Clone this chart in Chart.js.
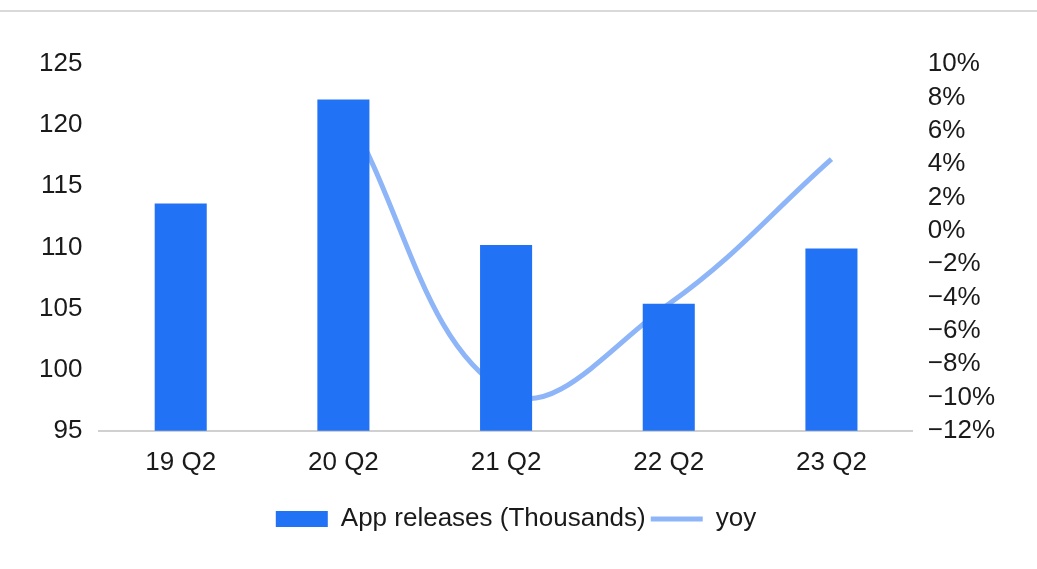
<!DOCTYPE html>
<html lang="en">
<head>
<meta charset="UTF-8">
<title>App releases</title>
<script src="https://cdn.jsdelivr.net/npm/chart.js@4.4.0/dist/chart.umd.min.js"></script>
<style>
  html, body { margin: 0; padding: 0; background: #fff; }
  #wrap { position: relative; width: 1037px; height: 569px; }
  #topline { position: absolute; left: 0; top: 10px; width: 1037px; height: 2px; background: #d9d9d9; }
</style>
</head>
<body>
<div id="wrap">
  <div id="topline"></div>
  <canvas id="chart" width="1037" height="569"></canvas>
</div>
<script>
var quarters = ['19 Q2', '20 Q2', '21 Q2', '22 Q2', '23 Q2'];
var releases = [113.6, 122.1, 110.2, 105.4, 109.9];
var yoy = [null, 7.5, -9.7, -4.4, 4.3];

var textColor = '#1a1a1a';
var font = { family: '"Liberation Sans", Arial, sans-serif', size: 26 };

function pct(v) {
  return (v < 0 ? '\u2212' : '') + Math.abs(v) + '%';
}

var ctx = document.getElementById('chart').getContext('2d');
window.chart = new Chart(ctx, {
  type: 'bar',
  data: {
    labels: quarters,
    datasets: [{
      type: 'bar',
      label: 'App releases (Thousands)',
      data: releases,
      backgroundColor: '#2272f5',
      borderWidth: 0,
      barPercentage: 0.32,
      categoryPercentage: 1,
      yAxisID: 'y',
      pointStyle: 'rect',
      order: 1
    }, {
      type: 'line',
      label: 'yoy',
      data: yoy,
      borderColor: '#8db5f7',
      backgroundColor: '#8db5f7',
      borderWidth: 5,
      pointRadius: 0,
      pointStyle: 'line',
      tension: 0.4,
      yAxisID: 'y1',
      order: 2
    }]
  },
  options: {
    responsive: false,
    animation: false,
    layout: { padding: { left: 22, right: 27, top: 64, bottom: 27 } },
    plugins: {
      tooltip: { enabled: false },
      legend: {
        position: 'bottom',
        labels: {
          usePointStyle: true,
          pointStyleWidth: 52,
          boxHeight: 16,
          padding: 5,
          color: textColor,
          font: font
        }
      }
    },
    scales: {
      x: {
        grid: { display: false, drawTicks: false },
        border: { display: true, color: '#d0d0d0', width: 2 },
        ticks: { color: textColor, font: font, padding: 16 },
        afterFit: function(s) { s.height += 7; }
      },
      y: {
        position: 'left',
        min: 95, max: 125,
        grid: { display: false, drawTicks: false },
        border: { display: false },
        ticks: { stepSize: 5, autoSkip: false, color: textColor, font: font, padding: 17 }
      },
      y1: {
        position: 'right',
        min: -12, max: 10,
        grid: { display: false, drawTicks: false },
        border: { display: false },
        ticks: { stepSize: 2, autoSkip: false, color: textColor, font: font, padding: 15, callback: pct }
      }
    }
  }
});
</script>
</body>
</html>
